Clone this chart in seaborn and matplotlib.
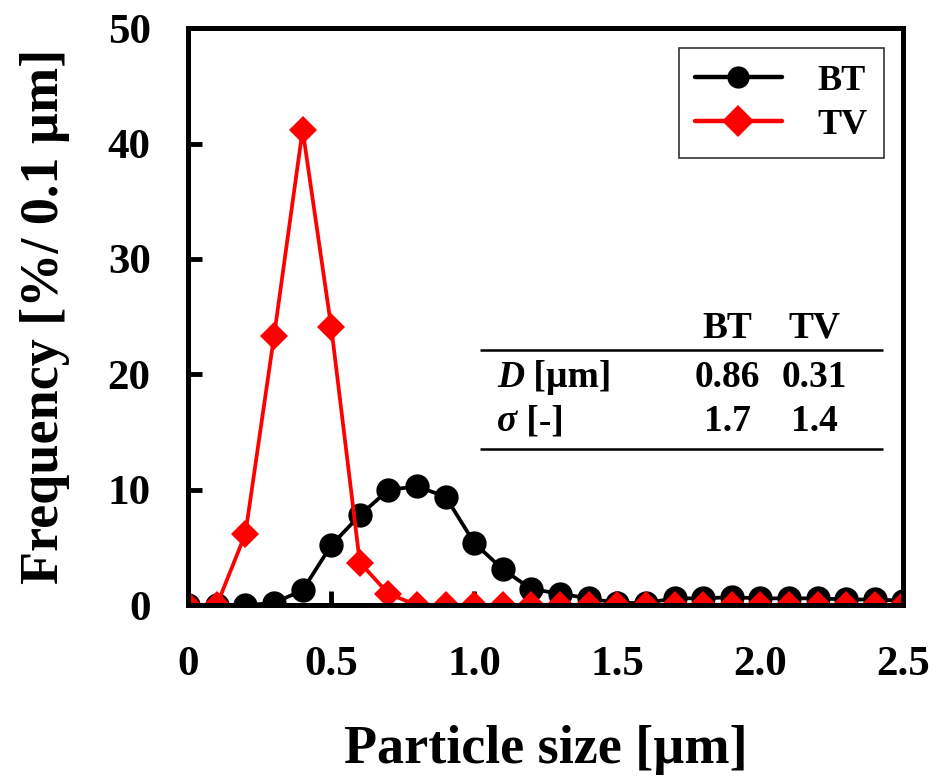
import numpy as np
import pandas as pd
import matplotlib
matplotlib.use("Agg")
import matplotlib.pyplot as plt
import seaborn as sns

sizes = [0.0, 0.1, 0.2, 0.3, 0.4, 0.5, 0.6, 0.7, 0.8, 0.9, 1.0, 1.1, 1.2,
         1.3, 1.4, 1.5, 1.6, 1.7, 1.8, 1.9, 2.0, 2.1, 2.2, 2.3, 2.4, 2.5]
bt_freq = [0.0, 0.0, 0.0, 0.2, 1.3, 5.2, 7.8, 10.0, 10.3, 9.4, 5.4, 3.1, 1.4,
           1.0, 0.6, 0.2, 0.2, 0.6, 0.6, 0.7, 0.6, 0.6, 0.6, 0.5, 0.5, 0.4]
tv_freq = [0.0, 0.0, 6.2, 23.3, 41.2, 24.1, 3.7, 1.0, 0.0, 0.0, 0.0, 0.0, 0.0,
           0.0, 0.0, 0.0, 0.0, 0.0, 0.0, 0.0, 0.0, 0.0, 0.0, 0.0, 0.0, 0.0]
series_names = ["BT", "TV"]
table_cols = ["BT", "TV"]
table_rows = [("D", " [µm]"), ("σ", " [-]")]
table_vals = [["0.86", "0.31"], ["1.7", "1.4"]]

sns.set_theme(style="white")
plt.rcParams['font.family'] = ['Liberation Serif', 'DejaVu Serif']
plt.rcParams['font.weight'] = 'bold'
for k in ['text.color', 'axes.labelcolor', 'xtick.color', 'ytick.color',
          'axes.edgecolor']:
    plt.rcParams[k] = 'black'

df = pd.DataFrame({
    "size": sizes * 2,
    "freq": bt_freq + tv_freq,
    "series": [series_names[0]] * len(sizes) + [series_names[1]] * len(sizes),
})

fig = plt.figure(figsize=(9.41, 7.82), dpi=100)
ax = fig.add_axes([0.2, 0.226, 0.76, 0.738])

sns.lineplot(data=df, x="size", y="freq", hue="series", style="series",
             palette={"BT": "black", "TV": "#ff0000"},
             markers={"BT": "o", "TV": "D"}, dashes=False,
             markersize=17.5, markeredgewidth=0, linewidth=2.7,
             ax=ax, legend=True)
for ln in ax.get_lines():
    if ln.get_marker() == "D":
        ln.set_markersize(14)

ax.set_xlim(0, 2.5)
ax.set_ylim(0, 50)
ax.set_xticks([0, 0.5, 1.0, 1.5, 2.0, 2.5])
ax.set_xticklabels(["0", "0.5", "1.0", "1.5", "2.0", "2.5"])
ax.set_yticks([0, 10, 20, 30, 40, 50])
ax.tick_params(axis="both", direction="in", length=10, width=3.5,
               labelsize=31, colors="black")
ax.tick_params(axis="x", bottom=True, top=False, pad=29)
ax.tick_params(axis="y", left=True, right=False, pad=27)
for lab in ax.get_xticklabels() + ax.get_yticklabels():
    lab.set_fontweight("bold")
for sp in ax.spines.values():
    sp.set_linewidth(3.6)
    sp.set_color("black")
    sp.set_visible(True)

ax.set_xlabel("Particle size [µm]", fontsize=39, fontweight="bold", labelpad=30)
ax.set_ylabel("Frequency [%/ 0.1 µm]", fontsize=39, fontweight="bold", labelpad=27)

handles, labels = ax.get_legend_handles_labels()
leg = ax.legend(handles, labels, loc="upper right", bbox_to_anchor=(0.973, 0.965),
                borderaxespad=0.0,
                fontsize=26, frameon=True, fancybox=False, edgecolor="black",
                handlelength=2.4, handletextpad=1.0, borderpad=0.45,
                labelspacing=0.3)
leg.get_frame().set_linewidth(1.2)
for t in leg.get_texts():
    t.set_fontweight("bold")
for h in leg.legend_handles:
    h.set_markersize(16)
    h.set_linewidth(3.2)

# inset table
col_x = [1.885, 2.19]
fs_tab = 27
for cx, name in zip(col_x, table_cols):
    ax.text(cx, 24.0, name, fontsize=fs_tab, fontweight="bold",
            ha="center", va="center")
ax.plot([1.02, 2.43], [22.1, 22.1], color="black", lw=1.8,
        solid_capstyle="butt")
row_y = [19.7, 15.9]
for (sym, unit), vals, yy in zip(table_rows, table_vals, row_y):
    ax.text(1.08, yy, sym, fontsize=fs_tab, fontweight="bold", fontstyle="italic",
            ha="left", va="center")
    ax.annotate(unit, xy=(1.08, yy), xycoords="data", fontsize=fs_tab,
                fontweight="bold", ha="left", va="center",
                xytext=(0, 0), textcoords="offset points")
    for cx, v in zip(col_x, vals):
        ax.text(cx, yy, v, fontsize=fs_tab, fontweight="bold", ha="center", va="center")
ax.plot([1.02, 2.43], [13.5, 13.5], color="black", lw=1.8, solid_capstyle="butt")

fig.canvas.draw()
r = fig.canvas.get_renderer()
texts = [t for t in ax.texts if t.get_fontstyle() == "italic"]
anns = [c for c in ax.get_children() if isinstance(c, matplotlib.text.Annotation)]
for t, a in zip(texts, anns):
    bb = t.get_window_extent(r)
    a.xyann = (bb.width * 72 / fig.dpi, 0)

fig.savefig("out.png", dpi=100)
